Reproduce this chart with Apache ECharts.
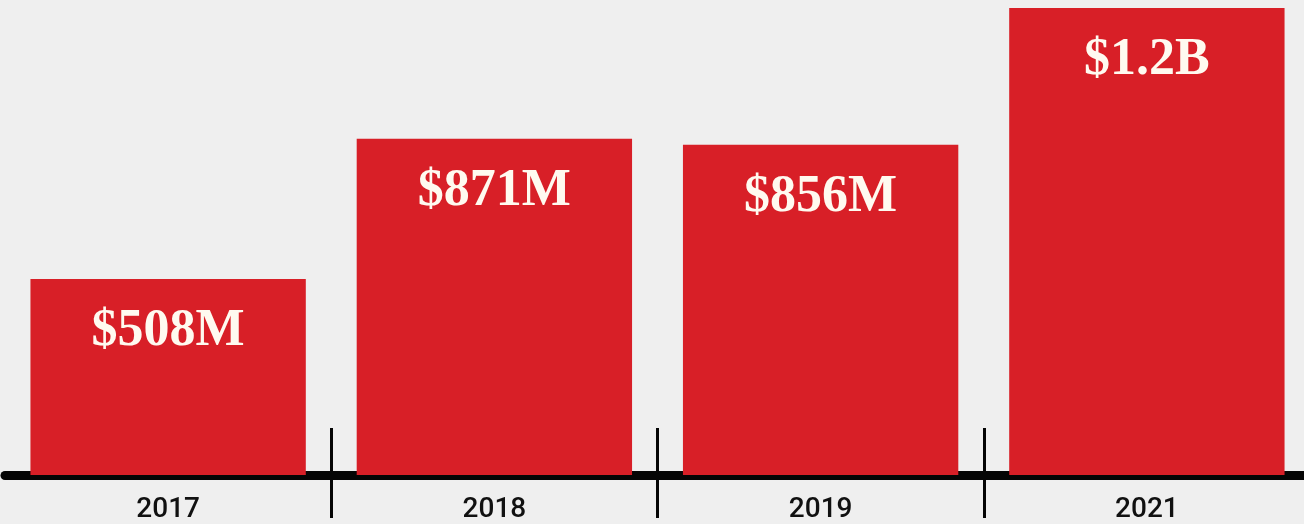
<!DOCTYPE html>
<html>
<head>
<meta charset="utf-8">
<script src="https://cdn.jsdelivr.net/npm/echarts@6/dist/echarts.min.js"></script>
<style>
html,body{margin:0;padding:0;background:#efefef;}
#chart{width:1304px;height:524px;}
</style>
</head>
<body>
<div id="chart"></div>
<script>
const categories = ['2017', '2018', '2019', '2021'];
const values = [508, 871, 856, 1210];
const valueLabels = ['$508M', '$871M', '$856M', '$1.2B'];

const chart = echarts.init(document.getElementById('chart'));
chart.setOption({
  backgroundColor: '#efefef',
  animation: false,
  grid: { left: 5, width: 1305, top: 8, bottom: 49, outerBoundsMode: 'none', containLabel: false },
  xAxis: [
    {
      type: 'category', data: categories, position: 'bottom',
      axisLine: { show: true, onZero: false, lineStyle: { color: '#050505', width: 9 } },
      axisTick: { show: true, inside: false, length: 43, interval: (i) => i > 0,
                  lineStyle: { color: '#050505', width: 3 } },
      axisLabel: { show: true, margin: 21, fontFamily: 'Roboto', fontWeight: 500,
                   fontSize: 28, color: '#111' }
    },
    {
      type: 'category', data: categories, position: 'bottom',
      axisLine: { show: false, onZero: false },
      axisTick: { show: true, inside: true, length: 47, interval: (i) => i > 0,
                  lineStyle: { color: '#050505', width: 3 } },
      axisLabel: { show: false }
    }
  ],
  yAxis: {
    type: 'value', min: 0, max: 1210, show: false,
    splitLine: { show: false }
  },
  series: [{
    type: 'bar',
    data: values,
    barCategoryGap: '15.6%',
    itemStyle: { color: '#d81f27' },
    label: {
      show: true,
      position: ['50%', 53],
      align: 'center',
      verticalAlign: 'middle',
      formatter: (p) => valueLabels[p.dataIndex],
      fontFamily: 'Liberation Serif',
      fontWeight: 'bold',
      fontSize: 52,
      color: '#fffaf0'
    }
  }]
});
</script>
</body>
</html>
